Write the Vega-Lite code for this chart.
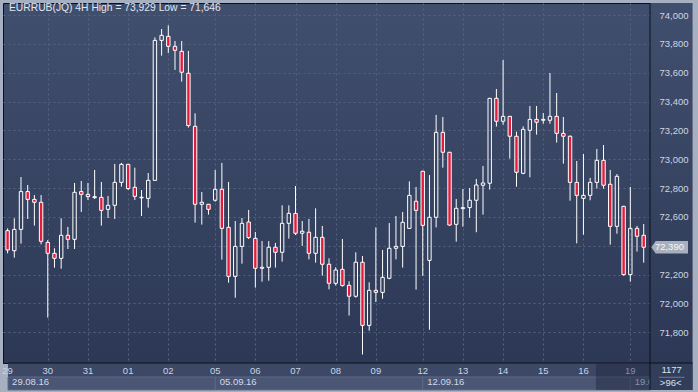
{
  "$schema": "https://vega.github.io/schema/vega-lite/v6.json",
  "width": 652,
  "height": 360,
  "autosize": {"type": "none"},
  "padding": {"left": 3, "top": 3, "right": 43, "bottom": 29},
  "background": "#a7b0c0",
  "view": {
    "fill": {"gradient": "linear", "x1": 0, "y1": 0, "x2": 0, "y2": 1, "stops": [{"offset": 0, "color": "#414f6e"}, {"offset": 1, "color": "#2c3855"}]},
    "stroke": "#0d1018",
    "strokeWidth": 1
  },
  "config": {
    "text": {"font": "Liberation Sans"},
    "axis": {"labelFont": "Liberation Sans"}
  },
  "datasets": {
    "candles": [
      {"i":1,"d":"29","w":"29.08.16","o":72505,"h":72521,"l":72348,"c":72371},
      {"i":2,"d":"29","w":"29.08.16","o":72366,"h":72591,"l":72318,"c":72514},
      {"i":3,"d":"29","w":"29.08.16","o":72514,"h":72877,"l":72415,"c":72776},
      {"i":4,"d":"29","w":"29.08.16","o":72776,"h":72822,"l":72586,"c":72722},
      {"i":5,"d":"29","w":"29.08.16","o":72722,"h":72752,"l":72540,"c":72702},
      {"i":6,"d":"29","w":"29.08.16","o":72702,"h":72752,"l":72410,"c":72431},
      {"i":7,"d":"30","w":"29.08.16","o":72424,"h":72440,"l":71902,"c":72348},
      {"i":8,"d":"30","w":"29.08.16","o":72348,"h":72383,"l":72248,"c":72313},
      {"i":9,"d":"30","w":"29.08.16","o":72313,"h":72591,"l":72241,"c":72473},
      {"i":10,"d":"30","w":"29.08.16","o":72473,"h":72531,"l":72378,"c":72445},
      {"i":11,"d":"30","w":"29.08.16","o":72445,"h":72836,"l":72378,"c":72771},
      {"i":12,"d":"30","w":"29.08.16","o":72776,"h":72850,"l":72635,"c":72757},
      {"i":13,"d":"31","w":"29.08.16","o":72757,"h":72836,"l":72718,"c":72741},
      {"i":14,"d":"31","w":"29.08.16","o":72734,"h":72926,"l":72725,"c":72741},
      {"i":15,"d":"31","w":"29.08.16","o":72736,"h":72843,"l":72540,"c":72646},
      {"i":16,"d":"31","w":"29.08.16","o":72653,"h":72746,"l":72593,"c":72681},
      {"i":17,"d":"31","w":"29.08.16","o":72681,"h":72968,"l":72586,"c":72840},
      {"i":18,"d":"31","w":"29.08.16","o":72840,"h":72975,"l":72810,"c":72965},
      {"i":19,"d":"01","w":"29.08.16","o":72965,"h":72968,"l":72787,"c":72797},
      {"i":20,"d":"01","w":"29.08.16","o":72806,"h":72942,"l":72718,"c":72743},
      {"i":21,"d":"01","w":"29.08.16","o":72733,"h":72787,"l":72607,"c":72737},
      {"i":22,"d":"01","w":"29.08.16","o":72729,"h":72905,"l":72665,"c":72854},
      {"i":23,"d":"01","w":"29.08.16","o":72854,"h":73846,"l":72852,"c":73825},
      {"i":24,"d":"01","w":"29.08.16","o":73825,"h":73904,"l":73719,"c":73860},
      {"i":25,"d":"02","w":"29.08.16","o":73853,"h":73929,"l":73738,"c":73784},
      {"i":26,"d":"02","w":"29.08.16","o":73784,"h":73821,"l":73620,"c":73756},
      {"i":27,"d":"02","w":"29.08.16","o":73749,"h":73821,"l":73539,"c":73604},
      {"i":28,"d":"02","w":"29.08.16","o":73597,"h":73752,"l":73220,"c":73234},
      {"i":29,"d":"02","w":"29.08.16","o":73229,"h":73319,"l":72561,"c":72688},
      {"i":30,"d":"02","w":"29.08.16","o":72688,"h":72773,"l":72547,"c":72702},
      {"i":31,"d":"02","w":"29.08.16","o":72688,"h":72690,"l":72616,"c":72653},
      {"i":32,"d":"05","w":"05.09.16","o":72716,"h":72926,"l":72706,"c":72792},
      {"i":33,"d":"05","w":"05.09.16","o":72792,"h":72975,"l":72304,"c":72521},
      {"i":34,"d":"05","w":"05.09.16","o":72528,"h":72843,"l":72144,"c":72188},
      {"i":35,"d":"05","w":"05.09.16","o":72188,"h":72572,"l":72040,"c":72396},
      {"i":36,"d":"05","w":"05.09.16","o":72396,"h":72593,"l":72276,"c":72556},
      {"i":37,"d":"05","w":"05.09.16","o":72565,"h":72649,"l":72447,"c":72457},
      {"i":38,"d":"06","w":"05.09.16","o":72452,"h":72496,"l":72110,"c":72244},
      {"i":39,"d":"06","w":"05.09.16","o":72244,"h":72433,"l":72151,"c":72251},
      {"i":40,"d":"06","w":"05.09.16","o":72251,"h":72433,"l":72158,"c":72390},
      {"i":41,"d":"06","w":"05.09.16","o":72390,"h":72420,"l":72249,"c":72355},
      {"i":42,"d":"06","w":"05.09.16","o":72355,"h":72681,"l":72290,"c":72556},
      {"i":43,"d":"06","w":"05.09.16","o":72556,"h":72681,"l":72450,"c":72625},
      {"i":44,"d":"07","w":"05.09.16","o":72625,"h":72815,"l":72475,"c":72487},
      {"i":45,"d":"07","w":"05.09.16","o":72487,"h":72572,"l":72399,"c":72501},
      {"i":46,"d":"07","w":"05.09.16","o":72494,"h":72586,"l":72306,"c":72348},
      {"i":47,"d":"07","w":"05.09.16","o":72348,"h":72660,"l":72283,"c":72459},
      {"i":48,"d":"07","w":"05.09.16","o":72459,"h":72538,"l":72193,"c":72272},
      {"i":49,"d":"07","w":"05.09.16","o":72272,"h":72313,"l":72098,"c":72140},
      {"i":50,"d":"08","w":"05.09.16","o":72140,"h":72251,"l":72124,"c":72232},
      {"i":51,"d":"08","w":"05.09.16","o":72237,"h":72447,"l":72117,"c":72124},
      {"i":52,"d":"08","w":"05.09.16","o":72126,"h":72154,"l":71916,"c":72050},
      {"i":53,"d":"08","w":"05.09.16","o":72050,"h":72355,"l":72040,"c":72286},
      {"i":54,"d":"08","w":"05.09.16","o":72286,"h":72329,"l":71646,"c":71848},
      {"i":55,"d":"08","w":"05.09.16","o":71848,"h":72147,"l":71811,"c":72091},
      {"i":56,"d":"09","w":"05.09.16","o":72091,"h":72528,"l":72010,"c":72077},
      {"i":57,"d":"09","w":"05.09.16","o":72077,"h":72371,"l":72033,"c":72181},
      {"i":58,"d":"09","w":"05.09.16","o":72175,"h":72558,"l":72168,"c":72383},
      {"i":59,"d":"09","w":"05.09.16","o":72383,"h":72607,"l":72306,"c":72396},
      {"i":60,"d":"09","w":"05.09.16","o":72396,"h":72635,"l":72249,"c":72563},
      {"i":61,"d":"09","w":"05.09.16","o":72521,"h":72847,"l":72518,"c":72750},
      {"i":62,"d":"09","w":"05.09.16","o":72709,"h":72808,"l":72096,"c":72646},
      {"i":63,"d":"12","w":"12.09.16","o":72917,"h":72920,"l":72191,"c":72542},
      {"i":64,"d":"12","w":"12.09.16","o":72299,"h":72891,"l":71818,"c":72598},
      {"i":65,"d":"12","w":"12.09.16","o":72598,"h":73308,"l":72528,"c":73187},
      {"i":66,"d":"12","w":"12.09.16","o":73187,"h":73294,"l":72942,"c":73049},
      {"i":67,"d":"12","w":"12.09.16","o":73049,"h":73051,"l":72540,"c":72544},
      {"i":68,"d":"12","w":"12.09.16","o":72549,"h":72725,"l":72429,"c":72660},
      {"i":69,"d":"13","w":"12.09.16","o":72658,"h":72794,"l":72533,"c":72665},
      {"i":70,"d":"13","w":"12.09.16","o":72665,"h":72801,"l":72595,"c":72716},
      {"i":71,"d":"13","w":"12.09.16","o":72716,"h":72864,"l":72494,"c":72822},
      {"i":72,"d":"13","w":"12.09.16","o":72820,"h":72954,"l":72616,"c":72836},
      {"i":73,"d":"13","w":"12.09.16","o":72834,"h":73426,"l":72790,"c":73423},
      {"i":74,"d":"13","w":"12.09.16","o":73423,"h":73488,"l":73227,"c":73264},
      {"i":75,"d":"14","w":"12.09.16","o":73264,"h":73689,"l":73240,"c":73298},
      {"i":76,"d":"14","w":"12.09.16","o":73298,"h":73301,"l":73005,"c":73160},
      {"i":77,"d":"14","w":"12.09.16","o":73160,"h":73192,"l":72810,"c":72910},
      {"i":78,"d":"14","w":"12.09.16","o":72903,"h":73229,"l":72896,"c":73208},
      {"i":79,"d":"14","w":"12.09.16","o":73201,"h":73370,"l":72875,"c":73277},
      {"i":80,"d":"14","w":"12.09.16","o":73277,"h":73370,"l":73171,"c":73257},
      {"i":81,"d":"15","w":"12.09.16","o":73271,"h":73321,"l":73247,"c":73277},
      {"i":82,"d":"15","w":"12.09.16","o":73271,"h":73599,"l":73247,"c":73298},
      {"i":83,"d":"15","w":"12.09.16","o":73298,"h":73460,"l":73116,"c":73180},
      {"i":84,"d":"15","w":"12.09.16","o":73180,"h":73294,"l":72970,"c":73160},
      {"i":85,"d":"15","w":"12.09.16","o":73160,"h":73166,"l":72713,"c":72840},
      {"i":86,"d":"15","w":"12.09.16","o":72840,"h":72988,"l":72417,"c":72750},
      {"i":87,"d":"16","w":"12.09.16","o":72729,"h":73037,"l":72477,"c":72750},
      {"i":88,"d":"16","w":"12.09.16","o":72750,"h":72871,"l":72716,"c":72840},
      {"i":89,"d":"16","w":"12.09.16","o":72840,"h":73072,"l":72797,"c":72993},
      {"i":90,"d":"16","w":"12.09.16","o":72993,"h":73099,"l":72797,"c":72820},
      {"i":91,"d":"16","w":"12.09.16","o":72827,"h":72926,"l":72408,"c":72535},
      {"i":92,"d":"16","w":"12.09.16","o":72535,"h":72898,"l":72484,"c":72882},
      {"i":93,"d":"16","w":"12.09.16","o":72674,"h":72677,"l":72193,"c":72200},
      {"i":94,"d":"19","w":"19.09.16","o":72200,"h":72808,"l":72151,"c":72521},
      {"i":95,"d":"19","w":"19.09.16","o":72521,"h":72538,"l":72360,"c":72466},
      {"i":96,"d":"19","w":"19.09.16","o":72473,"h":72551,"l":72283,"c":72390}
    ]
  },
  "data": {"name": "candles"},
  "resolve": {"axis": {"x": "independent", "y": "independent"}},
  "layer": [
    {
      "data": {"values": [{}]},
      "mark": {"type": "rect", "fill": {"gradient": "linear", "x1": 0, "y1": 0, "x2": 0, "y2": 1, "stops": [{"offset": 0, "color": "#414f6e"}, {"offset": 1, "color": "#2c3855"}]}},
      "encoding": {
        "x": {"datum": 96.94, "type": "quantitative", "axis": null},
        "x2": {"datum": 103.3},
        "y": {"datum": 74084.4, "type": "quantitative", "axis": null},
        "y2": {"datum": 71587}
      }
    },
    {
      "data": {"values": [{}]},
      "mark": {"type": "rect", "fill": "#3c4865"},
      "encoding": {
        "x": {"datum": 1.059, "type": "quantitative", "axis": null},
        "x2": {"datum": 103.3},
        "y": {"datum": 71587, "type": "quantitative", "axis": null},
        "y2": {"datum": 71400}
      }
    },
    {
      "data": {"values": [{}]},
      "mark": {"type": "rect", "fill": "#4a5674", "stroke": "#5e6b89", "strokeWidth": 1},
      "encoding": {
        "x": {"datum": 1.059, "type": "quantitative", "axis": null},
        "x2": {"datum": 96.94},
        "y": {"datum": 71490, "type": "quantitative", "axis": null},
        "y2": {"datum": 71400}
      }
    },
    {
      "transform": [{"aggregate": [{"op": "min", "field": "i", "as": "s"}], "groupby": ["w"]}, {"filter": "datum.s > 1"}],
      "mark": {"type": "rule", "stroke": "#5e6b89", "strokeWidth": 1},
      "encoding": {
        "x": {"field": "s", "type": "quantitative", "axis": null},
        "y": {"datum": 71490, "type": "quantitative", "axis": null},
        "y2": {"datum": 71400}
      }
    },
    {
      "transform": [{"aggregate": [{"op": "min", "field": "i", "as": "s"}], "groupby": ["d"]}],
      "mark": {"type": "text", "align": "center", "baseline": "middle", "fontSize": 9.5, "color": "#c9d5ec"},
      "encoding": {
        "x": {"field": "s", "type": "quantitative", "axis": null},
        "y": {"datum": 71531, "type": "quantitative", "axis": null},
        "text": {"field": "d", "type": "nominal"}
      }
    },
    {
      "transform": [{"aggregate": [{"op": "min", "field": "i", "as": "s"}], "groupby": ["w"]}],
      "mark": {"type": "text", "align": "left", "baseline": "middle", "dx": 4.5, "fontSize": 9.5, "color": "#d2dbeb", "limit": {"expr": "datum.s == 94 ? 22 : 200"}, "ellipsis": " "},
      "encoding": {
        "x": {"field": "s", "type": "quantitative", "axis": null},
        "y": {"datum": 71453, "type": "quantitative", "axis": null},
        "text": {"field": "w", "type": "nominal"}
      }
    },
    {
      "data": {"values": [{}]},
      "mark": {"type": "rect", "fill": "#1a2036", "opacity": 0.4},
      "encoding": {
        "x": {"datum": 88.85, "type": "quantitative", "axis": null},
        "x2": {"datum": 96.94},
        "y": {"datum": 71580, "type": "quantitative", "axis": null},
        "y2": {"datum": 71400}
      }
    },
    {
      "data": {"values": [{}]},
      "mark": {"type": "rect", "fill": "#313d59"},
      "encoding": {
        "x": {"datum": 96.94, "type": "quantitative", "axis": null},
        "x2": {"datum": 103.3},
        "y": {"datum": 71587, "type": "quantitative", "axis": null},
        "y2": {"datum": 71400}
      }
    },
    {
      "data": {"values": [{}]},
      "mark": {"type": "rule", "stroke": "#0d1018", "strokeWidth": 1},
      "encoding": {
        "x": {"datum": 96.94, "type": "quantitative", "axis": null},
        "y": {"datum": 74084.4, "type": "quantitative", "axis": null},
        "y2": {"datum": 71400}
      }
    },
    {
      "data": {"values": [{}]},
      "mark": {"type": "rule", "stroke": "#0d1018", "strokeWidth": 1},
      "encoding": {
        "x": {"datum": 1.059, "type": "quantitative", "axis": null},
        "x2": {"datum": 103.3},
        "y": {"datum": 71587, "type": "quantitative", "axis": null}
      }
    },
    {
      "data": {"values": [{}]},
      "mark": {"type": "rule", "stroke": "#737e98", "strokeWidth": 1},
      "encoding": {
        "x": {"datum": 98.27, "type": "quantitative", "axis": null},
        "x2": {"datum": 102.09},
        "y": {"datum": 71488, "type": "quantitative", "axis": null}
      }
    },
    {
      "data": {"values": [{}]},
      "mark": {"type": "text", "text": "1177", "align": "center", "baseline": "middle", "fontSize": 9.5, "color": "#dde3ee"},
      "encoding": {
        "x": {"datum": 100.18, "type": "quantitative", "axis": null},
        "y": {"datum": 71535, "type": "quantitative", "axis": null}
      }
    },
    {
      "data": {"values": [{}]},
      "mark": {"type": "text", "text": ">96<", "align": "center", "baseline": "middle", "fontSize": 9.5, "color": "#dde3ee"},
      "encoding": {
        "x": {"datum": 100.03, "type": "quantitative", "axis": null},
        "y": {"datum": 71448, "type": "quantitative", "axis": null}
      }
    },
    {
      "transform": [{"filter": "datum.c >= datum.o"}],
      "mark": {"type": "rule", "stroke": "#ffffff", "strokeWidth": 1, "clip": true},
      "encoding": {
        "x": {"field": "i", "type": "quantitative", "axis": null},
        "y": {"field": "h", "type": "quantitative", "axis": null},
        "y2": {"field": "c"}
      }
    },
    {
      "transform": [{"filter": "datum.c >= datum.o"}],
      "mark": {"type": "rule", "stroke": "#ffffff", "strokeWidth": 1, "clip": true},
      "encoding": {
        "x": {"field": "i", "type": "quantitative", "axis": null},
        "y": {"field": "o", "type": "quantitative", "axis": null},
        "y2": {"field": "l"}
      }
    },
    {
      "transform": [{"filter": "datum.c < datum.o"}],
      "mark": {"type": "rule", "stroke": "#ffffff", "strokeWidth": 1, "clip": true},
      "encoding": {
        "x": {"field": "i", "type": "quantitative", "axis": null},
        "y": {
          "field": "h", "type": "quantitative",
          "axis": {
            "orient": "right", "values": [71800, 72000, 72200, 72600, 72800, 73000, 73200, 73400, 73600, 73800, 74000],
            "format": ",d", "grid": false, "ticks": false, "domain": false, "title": null,
            "labelPadding": 4, "labelFontSize": 9.5, "labelColor": "#cdd6e6", "labelOverlap": false, "labelFlush": false, "zindex": 1
          }
        },
        "y2": {"field": "l"}
      }
    },
    {
      "mark": {"type": "bar", "size": 3.4, "stroke": "#ffffff", "strokeWidth": 1, "clip": true},
      "encoding": {
        "x": {
          "field": "i", "type": "quantitative",
          "scale": {"domain": [1.059, 96.94], "nice": false, "zero": false},
          "axis": {
            "orient": "bottom", "values": [7, 13, 19, 25, 32, 38, 44, 50, 56, 63, 69, 75, 81, 87, 94],
            "grid": true, "labels": false, "ticks": false, "domain": false, "title": null,
            "gridColor": "#56637f", "gridDash": [2, 3], "gridWidth": 1
          }
        },
        "y": {
          "field": "o", "type": "quantitative",
          "scale": {"domain": [71587, 74084.4], "nice": false, "zero": false},
          "axis": {
            "orient": "right", "values": [71800, 72000, 72200, 72400, 72600, 72800, 73000, 73200, 73400, 73600, 73800, 74000],
            "grid": true, "labels": false, "ticks": false, "domain": false, "title": null,
            "gridColor": "#56637f", "gridDash": [2, 3], "gridWidth": 1
          }
        },
        "y2": {"field": "c"},
        "fill": {"condition": {"test": "datum.c < datum.o", "value": "#e31c3d"}, "value": "transparent"}
      }
    },
    {
      "data": {"values": [{}]},
      "mark": {"type": "text", "text": "EURRUB(JQ) 4H High = 73,929 Low = 71,646", "align": "left", "baseline": "middle", "dx": 1, "fontSize": 10.3, "color": "#e2e7f0"},
      "encoding": {
        "x": {"datum": 1.059, "type": "quantitative", "axis": null},
        "y": {"datum": 74049, "type": "quantitative", "axis": null}
      }
    },
    {
      "transform": [{"filter": "datum.i == 96"}],
      "mark": {"type": "point", "shape": "M-1,0L-0.765,-0.336L1,-0.336L1,0.336L-0.765,0.336Z", "size": 1340, "filled": true, "fill": "#a9b0bd", "opacity": 1, "strokeWidth": 0},
      "encoding": {
        "x": {"datum": 99.88, "type": "quantitative", "axis": null},
        "y": {"field": "c", "type": "quantitative", "axis": null}
      }
    },
    {
      "transform": [{"filter": "datum.i == 96"}],
      "mark": {"type": "text", "align": "center", "baseline": "middle", "fontSize": 9.5, "color": "#f4f6fa"},
      "encoding": {
        "x": {"datum": 99.84, "type": "quantitative", "axis": null},
        "y": {"field": "c", "type": "quantitative", "axis": null},
        "text": {"field": "c", "type": "quantitative", "format": ",d"}
      }
    }
  ]
}
